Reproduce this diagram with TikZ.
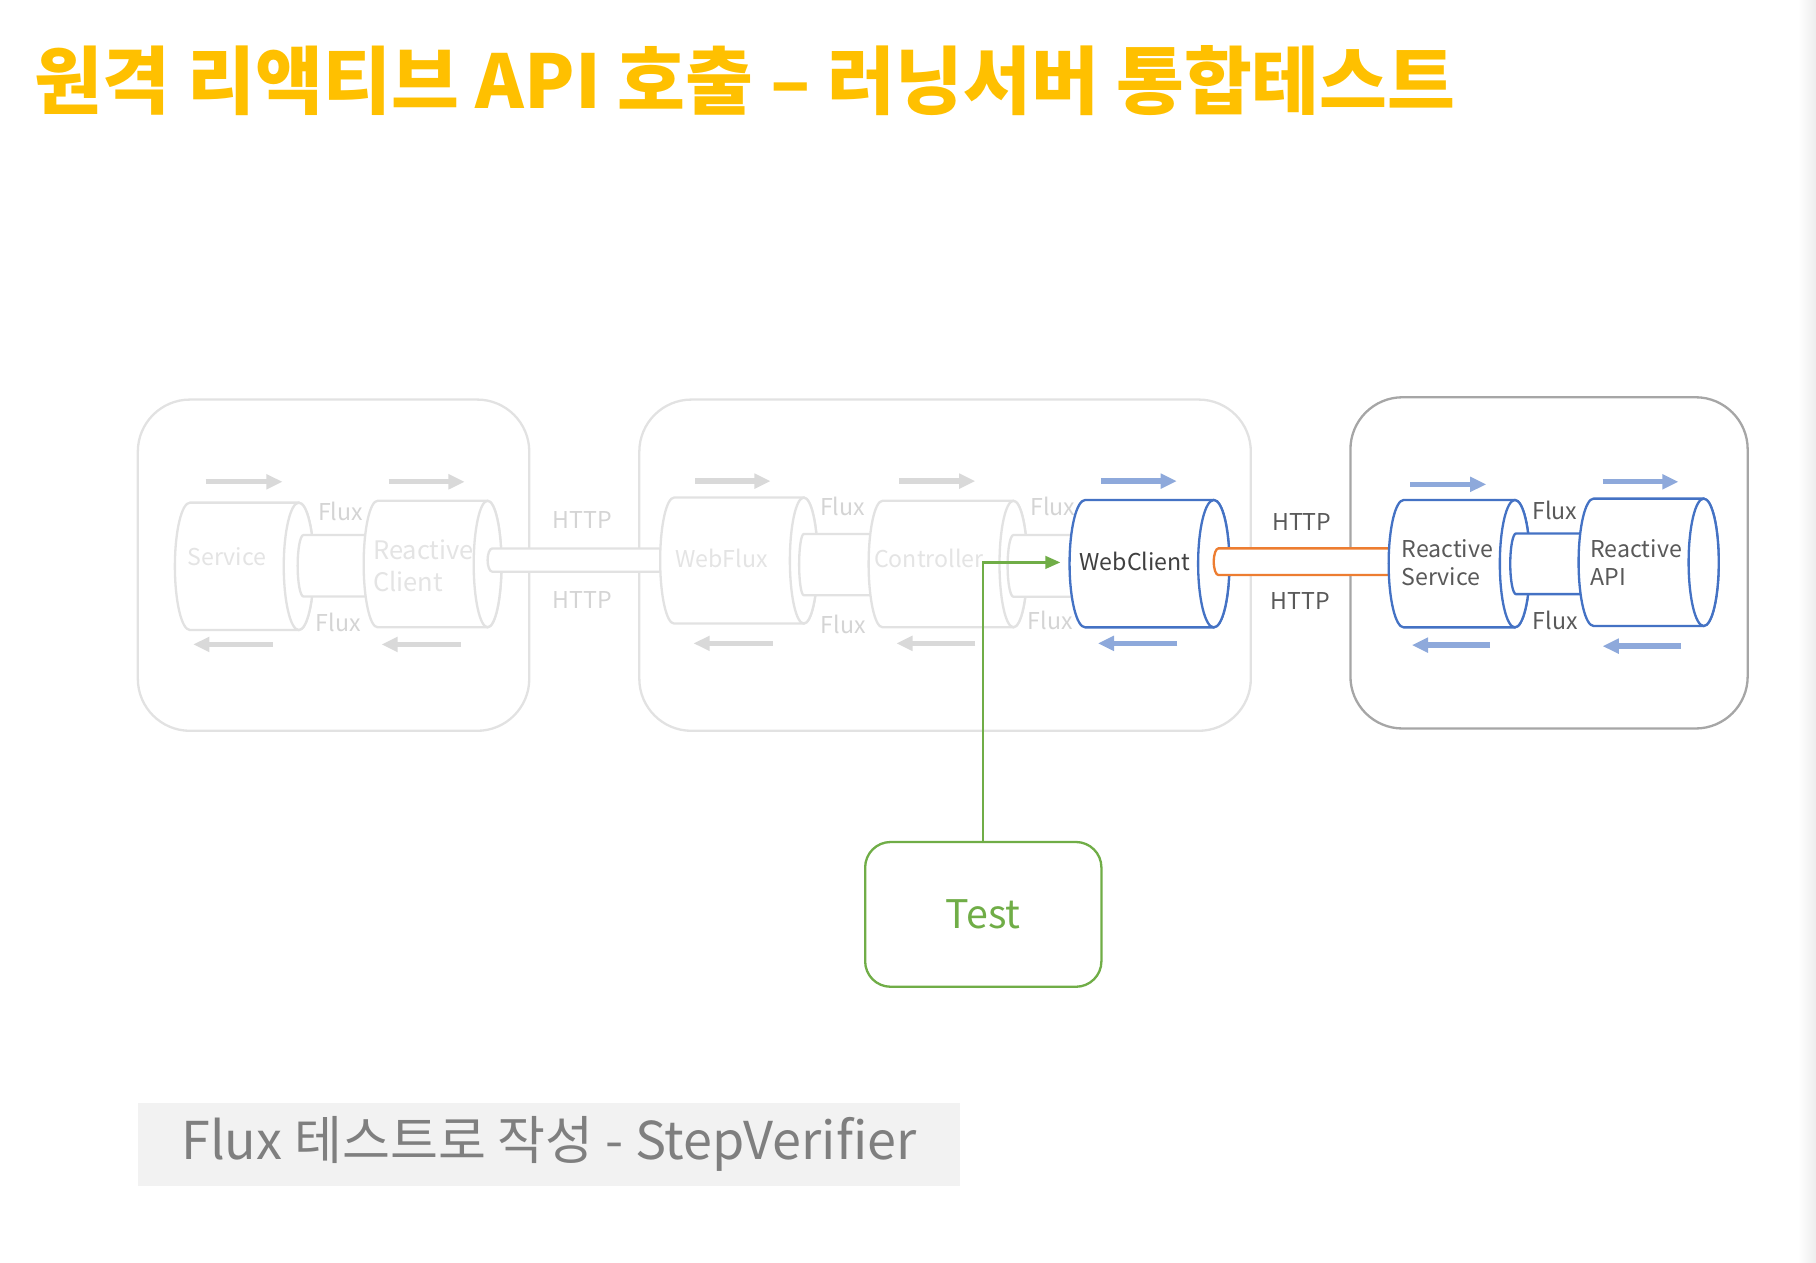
\documentclass[tikz,border=0pt]{standalone}
\usepackage{fontspec}
\setmainfont{Noto Sans CJK KR}
\newfontfamily\titlefam[FakeStretch=0.995]{Noto Sans CJK KR}
\usetikzlibrary{arrows.meta}
\definecolor{gold}{HTML}{FFC000}
\definecolor{faint}{HTML}{E2E2E2}
\definecolor{faintarrow}{HTML}{D9D9D9}
\definecolor{fainttext}{HTML}{D4D4D4}
\definecolor{ghosttext}{HTML}{E4E4E4}
\definecolor{blueline}{HTML}{4472C4}
\definecolor{bluearrow}{HTML}{8EA9DB}
\definecolor{orangeline}{HTML}{ED7D31}
\definecolor{greenline}{HTML}{70AD47}
\definecolor{darktext}{HTML}{595959}
\definecolor{notebg}{HTML}{F2F2F2}
\definecolor{notetext}{HTML}{7F7F7F}
\definecolor{boxgray}{HTML}{A6A6A6}
\newcommand\cylbody[6]{%
  \filldraw[#1] (#3,#4-#6) -- (#2,#4-#6) arc[start angle=270,end angle=90,x radius=#5,y radius=#6] -- (#3,#4+#6) arc[start angle=90,end angle=-90,x radius=#5,y radius=#6] -- cycle;
  \draw[#1] (#3,#4) ellipse[x radius=#5,y radius=#6];}
\newcommand\tubebody[6]{%
  \filldraw[#1] (#3,#4-#6) -- (#2,#4-#6) arc[start angle=270,end angle=90,x radius=#5,y radius=#6] -- (#3,#4+#6);}
\begin{document}
\begin{tikzpicture}[x=1pt,y=-1pt,
  ghost/.style={draw=faint,fill=white,line width=2pt},
  bluecyl/.style={draw=blueline,fill=white,line width=2pt},
  orangetube/.style={draw=orangeline,fill=white,line width=2pt},
  container/.style={draw=faint,line width=2pt,rounded corners=45pt,inner sep=0pt},
  lbl/.style={inner sep=0pt,font=\fontsize{20}{24}\selectfont},
  flow/.style={line width=4.6pt,-{Triangle[length=14pt,width=12.4pt]}},
]
\useasboundingbox (0,0) rectangle (1568,1090);
\shade[left color=white,right color=black!7] (1552,0) rectangle (1568,1090);

% title
\node[anchor=base west,inner sep=0pt,text=gold,font=\titlefam\bfseries\fontsize{64}{70}\selectfont] (title) at (30,94) {원격 리액티브 API 호출 – 러닝서버 통합테스트};

% containers
\node[container,minimum width=338pt,minimum height=286pt] (box1) at (288,488) {};
\node[container,minimum width=528pt,minimum height=286pt] (box2) at (816,488) {};
\node[container,draw=boxgray,minimum width=343pt,minimum height=286pt] (box3) at (1337.5,486) {};

% cylinders chain
\cylbody{ghost}{164}{258}{489}{13}{55}
\tubebody{ghost}{262}{340}{488.5}{5}{26.5}
\cylbody{ghost}{326}{421}{487}{12}{54.6}
\tubebody{ghost}{425}{600}{483.6}{4}{10}
\cylbody{ghost}{582}{694}{484}{12}{54.4}
\tubebody{ghost}{694}{780}{487.5}{4}{26.4}
\cylbody{ghost}{762}{875}{487}{12}{54.6}
\tubebody{ghost}{875}{955}{488.6}{5}{26.6}
\cylbody{bluecyl}{937}{1048}{486.7}{13.5}{55}
\tubebody{orangetube}{1052}{1225}{485}{4}{11.5}
\cylbody{bluecyl}{1212}{1308}{486.7}{13}{55}
\tubebody{bluecyl}{1309}{1395}{486.8}{5}{26.2}
\cylbody{bluecyl}{1376}{1471}{485.5}{13}{55}

% cylinder texts
\node[lbl,text=ghosttext] (service) at (196,481) {Service};
\node[lbl,text=ghosttext,anchor=west,font=\fontsize{22}{26}\selectfont] (rc1) at (322,475) {Reactive};
\node[lbl,text=ghosttext,anchor=west,font=\fontsize{22}{26}\selectfont] (rc2) at (322,502) {Client};
\node[lbl,text=ghosttext] (webflux) at (623,482) {WebFlux};
\node[lbl,text=ghosttext] (controller) at (802,482) {Controller};
\node[lbl,text=black!75] (webclient) at (980,485) {WebClient};
\node[lbl,text=darktext,anchor=west] (rs1) at (1210,473.5) {Reactive};
\node[lbl,text=darktext,anchor=west] (rs2) at (1210,498) {Service};
\node[lbl,text=darktext,anchor=west] (ra1) at (1373,473.5) {Reactive};
\node[lbl,text=darktext,anchor=west] (ra2) at (1373,498) {API};

% flux / http labels
\node[lbl,text=fainttext] (f1) at (294,441.5) {Flux};
\node[lbl,text=fainttext] (f2) at (292,537.5) {Flux};
\node[lbl,text=fainttext] (f3) at (727.5,437.5) {Flux};
\node[lbl,text=fainttext] (f4) at (728,539) {Flux};
\node[lbl,text=fainttext] (f5) at (909,437.5) {Flux};
\node[lbl,text=fainttext] (f6) at (907,535.5) {Flux};
\node[lbl,text=darktext] (f7) at (1342.5,441) {Flux};
\node[lbl,text=darktext] (f8) at (1343,535.5) {Flux};
\node[lbl,text=fainttext] (h1) at (503,449) {HTTP};
\node[lbl,text=fainttext] (h2) at (503,518) {HTTP};
\node[lbl,text=darktext] (h3) at (1124,451) {HTTP};
\node[lbl,text=darktext] (h4) at (1123,519) {HTTP};

% flow arrows
\draw[flow,faintarrow] (177.6,416) -- (244,416);
\draw[flow,faintarrow] (335.6,416) -- (401.2,416);
\draw[flow,faintarrow] (235.7,556.4) -- (166.8,556.4);
\draw[flow,faintarrow] (398.1,556.4) -- (329.4,556.4);
\draw[flow,faintarrow] (600.5,415.4) -- (665.4,415.4);
\draw[flow,faintarrow] (776.3,415.4) -- (842.2,415.4);
\draw[flow,faintarrow] (667,555.5) -- (598.8,555.5);
\draw[flow,faintarrow] (842,555.5) -- (774,555.5);
\draw[flow,bluearrow] (950.5,415.4) -- (1016.1,415.4);
\draw[flow,bluearrow] (1016.5,555.5) -- (948,555.5);
\draw[flow,bluearrow] (1217.6,418.2) -- (1283.3,418.2);
\draw[flow,bluearrow] (1383.7,416) -- (1449.3,416);
\draw[flow,bluearrow] (1286.7,557) -- (1219,557);
\draw[flow,bluearrow] (1451.4,557.9) -- (1383.7,557.9);

% test box and connector
\node[draw=greenline,line width=2pt,rounded corners=22pt,minimum width=204pt,minimum height=125pt,text=greenline,font=\fontsize{34}{40}\selectfont] (test) at (849,789.5) {Test};
\coordinate (wctip) at (915.5,485.6);
\draw[greenline,line width=2pt,-{Triangle[length=13pt,width=11pt]}] (test.north) |- (wctip);

% note
\node[fill=notebg,minimum width=710pt,minimum height=72pt,inner sep=0pt,text=notetext,font=\fontsize{45}{50}\selectfont] (note) at (474,988) {Flux 테스트로 작성 - StepVerifier};
\end{tikzpicture}
\end{document}
